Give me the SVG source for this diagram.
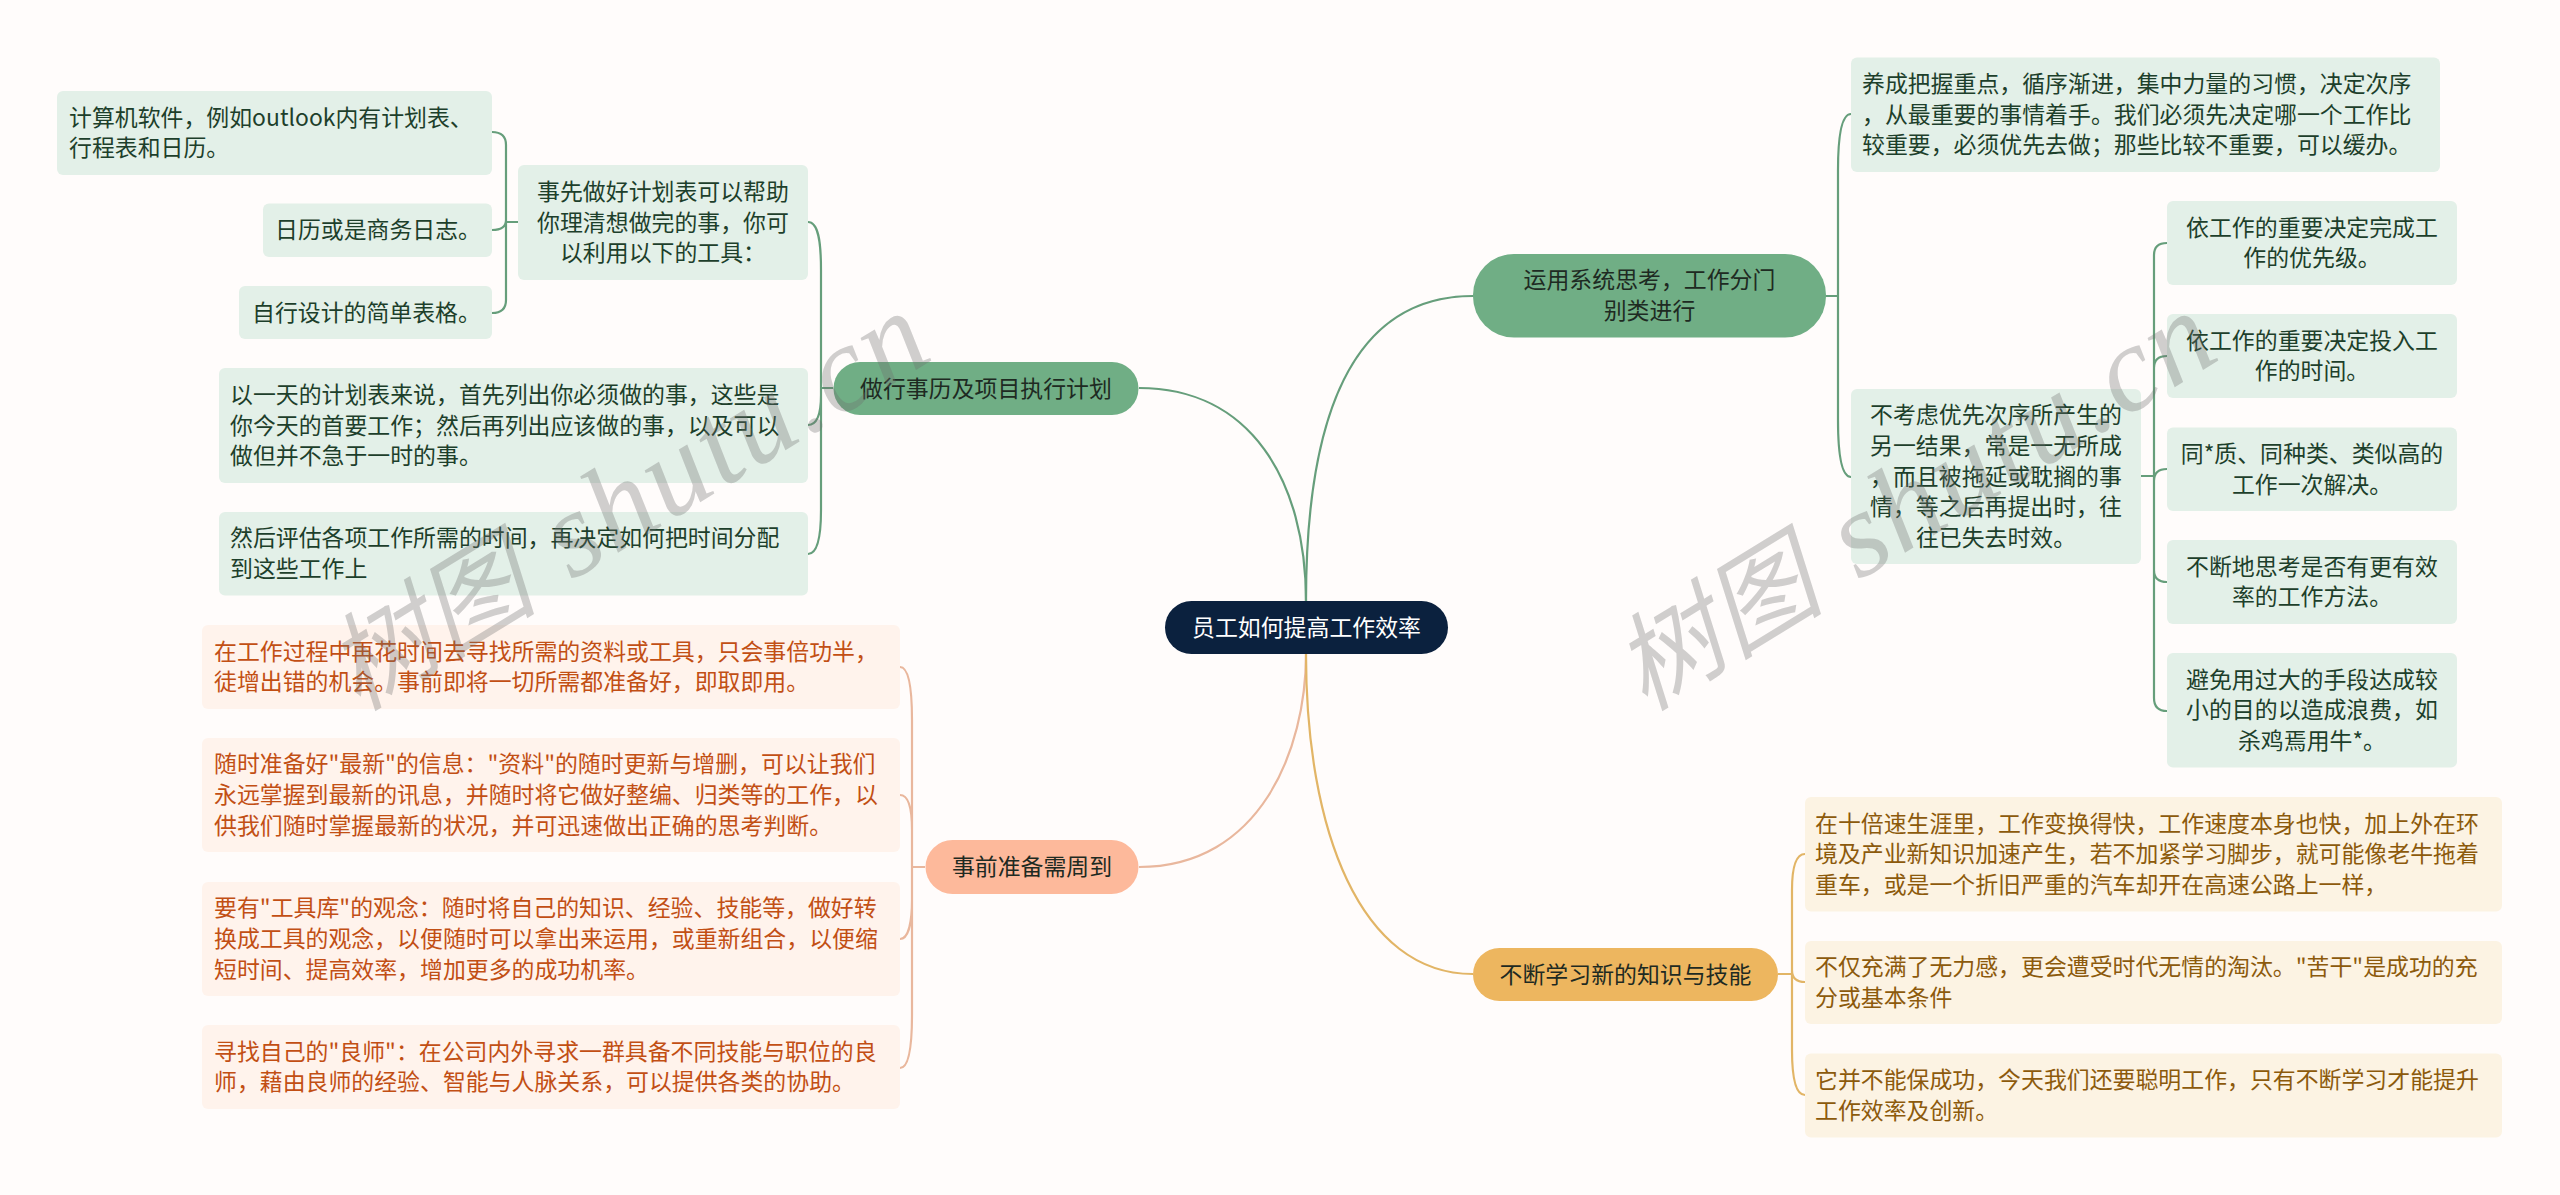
<svg xmlns="http://www.w3.org/2000/svg" width="2560" height="1195" viewBox="0 0 2560 1195">
<style>
text{font-family:"Noto Sans CJK SC","Noto Sans",sans-serif;font-size:22.9px}
.conn path{fill:none;stroke-width:2.2}
.g{stroke:#669e7b}.o{stroke:#e9b79d}.y{stroke:#e2b566}
.bg{fill:#e3f0e8}.bo{fill:#fff3ec}.by{fill:#fcf3e3}
.tg{fill:#1d3f2b}.to{fill:#c24f14}.ty{fill:#8c5a0c}
.m{text-anchor:middle}
.nt{fill:#1e2a22}
text.wm{font-family:"Liberation Serif","Noto Sans CJK SC",serif;font-size:106px;font-style:italic;fill:#6e6e6e;fill-opacity:.32}
.wl{font-size:122px;letter-spacing:2.5px}
</style>
<rect width="2560" height="1195" fill="#fffcfb"/>
<g id="connectors" class="conn">
<path class="g" d="M1306 601C1306 480 1250 388 1139 388"/>
<path class="g" d="M1306 601C1306 420 1350 296 1473 296"/>
<path class="o" d="M1306 654C1306 750 1260 867 1139 867"/>
<path class="y" d="M1306 654C1306 830 1360 974 1473 974"/>
<path class="g" d="M833 388H821M821 388V270C821 240 818 222 808 222M821 388V395Q821 425 808 425M821 388V510C821 535 818 554 808 554"/>
<path class="g" d="M518 222H506M506 222V145Q506 132 492 132M506 222V220Q506 230 492 230M506 222V300Q506 313 492 313"/>
<path class="o" d="M925 867H912M912 867V720C912 690 909 667 900 667M912 867V830C912 810 909 795 900 795M912 867V900C912 920 909 939 900 939M912 867V1015C912 1045 909 1068 900 1068"/>
<path class="g" d="M1826 296H1838M1838 296V170C1838 140 1841 114 1851 114M1838 296V420C1838 450 1841 477 1851 477"/>
<path class="g" d="M2141 476H2154M2154 476V255Q2154 243 2167 243M2154 476V368Q2154 356 2167 356M2154 476V481Q2154 469 2167 469M2154 476V570Q2154 582 2167 582M2154 476V698Q2154 711 2167 711"/>
<path class="y" d="M1778 974H1792M1792 974V890C1792 870 1795 854 1805 854M1792 974V970Q1792 982 1805 982M1792 974V1050C1792 1075 1795 1095 1805 1095"/>
</g>
<g id="root"><rect x="1165" y="601" width="283" height="53" rx="26.5" fill="#0b213e"/><text class="m" x="1306.5" y="636" fill="#fff">员工如何提高工作效率</text></g>
<g id="n-plan"><rect x="833.5" y="362" width="305" height="53" rx="26.5" fill="#70ae85"/><text class="m nt" x="986" y="396.5">做行事历及项目执行计划</text></g>
<g id="n-prep"><rect x="925.5" y="840" width="213" height="54" rx="27" fill="#fdb99b"/><text class="m nt" x="1032" y="875">事前准备需周到</text></g>
<g id="n-system"><rect x="1473" y="254" width="353" height="83.5" rx="41" fill="#70ae85"/><text class="m nt" x="1649.5" y="288.4">运用系统思考，工作分门<tspan x="1649.5" dy="30.6">别类进行</tspan></text></g>
<g id="n-learn"><rect x="1473" y="948" width="305" height="53" rx="26.5" fill="#edb65f"/><text class="m nt" x="1625.5" y="982.5">不断学习新的知识与技能</text></g>

<g id="a1"><rect class="bg" x="57" y="91" width="435" height="84" rx="6"/><text class="tg" x="69" y="125.7">计算机软件，例如outlook内有计划表、<tspan x="69" dy="30.6">行程表和日历。</tspan></text></g>
<g id="a2"><rect class="bg" x="263" y="203.5" width="229" height="53.5" rx="6"/><text class="tg" x="275" y="238.3">日历或是商务日志。</text></g>
<g id="a3"><rect class="bg" x="239" y="286" width="253" height="53" rx="6"/><text class="tg" x="252" y="320.5">自行设计的简单表格。</text></g>
<g id="a4"><rect class="bg" x="518" y="165" width="290" height="115" rx="6"/><text class="tg m" x="663" y="200">事先做好计划表可以帮助<tspan x="663" dy="30.6">你理清想做完的事，你可</tspan><tspan x="663" dy="30.6">以利用以下的工具：</tspan></text></g>
<g id="a5"><rect class="bg" x="219" y="368" width="589" height="115" rx="6"/><text class="tg" x="230" y="403">以一天的计划表来说，首先列出你必须做的事，这些是<tspan x="230" dy="30.6">你今天的首要工作；然后再列出应该做的事，以及可以</tspan><tspan x="230" dy="30.6">做但并不急于一时的事。</tspan></text></g>
<g id="a6"><rect class="bg" x="219" y="512" width="589" height="83.5" rx="6"/><text class="tg" x="230" y="546.4">然后评估各项工作所需的时间，再决定如何把时间分配<tspan x="230" dy="30.6">到这些工作上</tspan></text></g>

<g id="b1"><rect class="bo" x="202" y="625" width="698" height="84" rx="6"/><text class="to" x="214" y="659.7">在工作过程中再花时间去寻找所需的资料或工具，只会事倍功半，<tspan x="214" dy="30.6">徒增出错的机会。事前即将一切所需都准备好，即取即用。</tspan></text></g>
<g id="b2"><rect class="bo" x="202" y="738" width="698" height="114" rx="6"/><text class="to" x="214" y="772.4">随时准备好"最新"的信息："资料"的随时更新与增删，可以让我们<tspan x="214" dy="30.6">永远掌握到最新的讯息，并随时将它做好整编、归类等的工作，以</tspan><tspan x="214" dy="30.6">供我们随时掌握最新的状况，并可迅速做出正确的思考判断。</tspan></text></g>
<g id="b3"><rect class="bo" x="202" y="882" width="698" height="114" rx="6"/><text class="to" x="214" y="916.4">要有"工具库"的观念：随时将自己的知识、经验、技能等，做好转<tspan x="214" dy="30.6">换成工具的观念，以便随时可以拿出来运用，或重新组合，以便缩</tspan><tspan x="214" dy="30.6">短时间、提高效率，增加更多的成功机率。</tspan></text></g>
<g id="b4"><rect class="bo" x="202" y="1025" width="698" height="84" rx="6"/><text class="to" x="214" y="1059.7">寻找自己的"良师"：在公司内外寻求一群具备不同技能与职位的良<tspan x="214" dy="30.6">师，藉由良师的经验、智能与人脉关系，可以提供各类的协助。</tspan></text></g>

<g id="c1"><rect class="bg" x="1851" y="57.5" width="589" height="114.5" rx="6"/><text class="tg" x="1862" y="92">养成把握重点，循序渐进，集中力量的习惯，决定次序<tspan x="1862" dy="30.6">，从最重要的事情着手。我们必须先决定哪一个工作比</tspan><tspan x="1862" dy="30.6">较重要，必须优先去做；那些比较不重要，可以缓办。</tspan></text></g>
<g id="c2"><rect class="bg" x="1851" y="389" width="290" height="175" rx="6"/><text class="tg m" x="1996" y="423.3">不考虑优先次序所产生的<tspan x="1996" dy="30.6">另一结果，常是一无所成</tspan><tspan x="1996" dy="30.6">，而且被拖延或耽搁的事</tspan><tspan x="1996" dy="30.6">情，等之后再提出时，往</tspan><tspan x="1996" dy="30.6">往已失去时效。</tspan></text></g>
<g id="d1"><rect class="bg" x="2167" y="201" width="290" height="84" rx="6"/><text class="tg m" x="2312" y="235.7">依工作的重要决定完成工<tspan x="2312" dy="30.6">作的优先级。</tspan></text></g>
<g id="d2"><rect class="bg" x="2167" y="314" width="290" height="84" rx="6"/><text class="tg m" x="2312" y="348.7">依工作的重要决定投入工<tspan x="2312" dy="30.6">作的时间。</tspan></text></g>
<g id="d3"><rect class="bg" x="2167" y="427.5" width="290" height="83.5" rx="6"/><text class="tg m" x="2312" y="462">同*质、同种类、类似高的<tspan x="2312" dy="30.6">工作一次解决。</tspan></text></g>
<g id="d4"><rect class="bg" x="2167" y="540" width="290" height="84" rx="6"/><text class="tg m" x="2312" y="574.7">不断地思考是否有更有效<tspan x="2312" dy="30.6">率的工作方法。</tspan></text></g>
<g id="d5"><rect class="bg" x="2167" y="653" width="290" height="114.5" rx="6"/><text class="tg m" x="2312" y="687.7">避免用过大的手段达成较<tspan x="2312" dy="30.6">小的目的以造成浪费，如</tspan><tspan x="2312" dy="30.6">杀鸡焉用牛*。</tspan></text></g>

<g id="e1"><rect class="by" x="1805" y="797" width="697" height="114.5" rx="6"/><text class="ty" x="1815" y="831.6">在十倍速生涯里，工作变换得快，工作速度本身也快，加上外在环<tspan x="1815" dy="30.6">境及产业新知识加速产生，若不加紧学习脚步，就可能像老牛拖着</tspan><tspan x="1815" dy="30.6">重车，或是一个折旧严重的汽车却开在高速公路上一样，</tspan></text></g>
<g id="e2"><rect class="by" x="1805" y="941" width="697" height="83" rx="6"/><text class="ty" x="1815" y="975.2">不仅充满了无力感，更会遭受时代无情的淘汰。"苦干"是成功的充<tspan x="1815" dy="30.6">分或基本条件</tspan></text></g>
<g id="e3"><rect class="by" x="1805" y="1053.5" width="697" height="84" rx="6"/><text class="ty" x="1815" y="1088.2">它并不能保成功，今天我们还要聪明工作，只有不断学习才能提升<tspan x="1815" dy="30.6">工作效率及创新。</tspan></text></g>

<g id="watermark">
<text class="wm" transform="translate(358 712) rotate(-31.5)">树图 <tspan class="wl" dx="12">shutu.cn</tspan></text>
<text class="wm" transform="translate(1645 712) rotate(-31.5)">树图 <tspan class="wl" dx="12">shutu.cn</tspan></text>
</g>
</svg>
